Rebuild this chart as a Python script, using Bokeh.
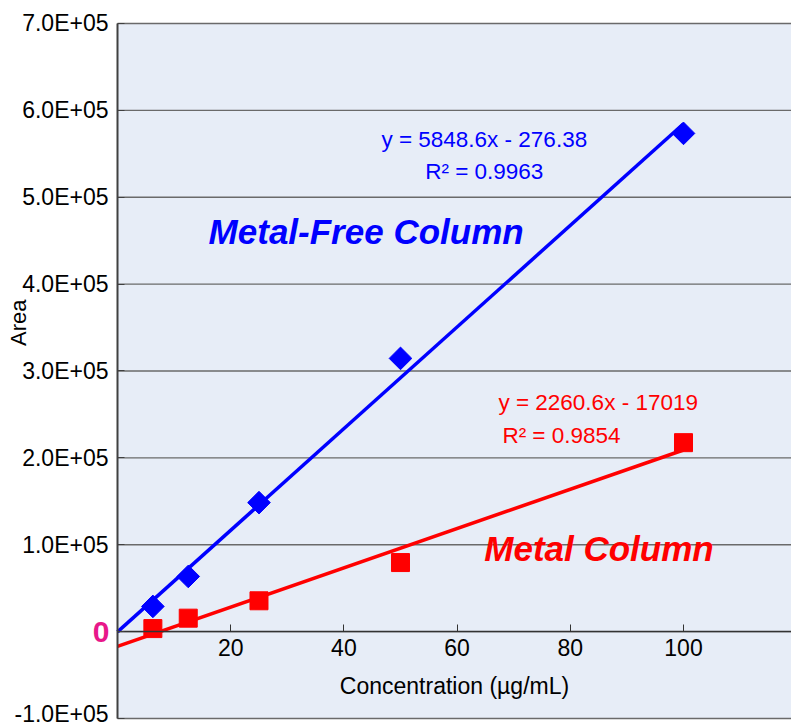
from bokeh.plotting import figure
from bokeh.models import FixedTicker, Label, ColumnDataSource, BoxAnnotation
from bokeh.embed import file_html
from bokeh.resources import INLINE
import numpy as np

# ---- data ----
conc = [6.25, 12.5, 25, 50, 100]
metal_free_area = [29000, 63500, 148500, 314500, 573500]
metal_area = [3500, 15500, 35500, 79500, 217500]
fit_mf = (5848.6, -276.38)
fit_m = (2260.6, -17019)
x_ticks = [20, 40, 60, 80, 100]
y_ticks = [-100000, 0, 100000, 200000, 300000, 400000, 500000, 600000, 700000]
y_tick_labels = ["-1.0E+05", "", "1.0E+05", "2.0E+05", "3.0E+05", "4.0E+05",
                 "5.0E+05", "6.0E+05", "7.0E+05"]

FONT = "Liberation Sans"
BG = "#E7EDF7"
X_START, X_END = -20.67, 119.08
Y_MIN, Y_MAX = -100000, 700000
Y_START, Y_END = -109209, 726474

p = figure(width=791, height=726, x_range=(X_START, X_END), y_range=(Y_START, Y_END),
           output_backend="svg", toolbar_location=None,
           min_border_left=0, min_border_top=0, min_border_bottom=0, min_border_right=0)
p.background_fill_color = "white"
p.border_fill_color = "white"
p.outline_line_color = None
p.xgrid.grid_line_color = None
p.ygrid.grid_line_color = None

# plot-area background
p.add_layout(BoxAnnotation(left=0, bottom=Y_MIN, top=Y_MAX, fill_color=BG,
                           fill_alpha=1.0, line_color=None, level="underlay"))

# horizontal grid lines across the plot area
p.segment(x0=[0] * len(y_ticks), x1=[X_END] * len(y_ticks), y0=y_ticks, y1=y_ticks,
          line_color="#6a6a6a", line_width=1.4)

# x axis at y=0
p.xaxis.fixed_location = 0
p.xaxis.bounds = (0, X_END)
p.xaxis.ticker = FixedTicker(ticks=x_ticks)
p.xaxis.axis_line_color = "#333333"
p.xaxis.axis_line_width = 1.5
p.xaxis.major_tick_in = 7
p.xaxis.major_tick_out = 0
p.xaxis.major_tick_line_color = "#333333"
p.xaxis.minor_tick_line_color = None
p.xaxis.major_label_text_font = FONT
p.xaxis.major_label_text_font_size = "23px"
p.xaxis.major_label_text_color = "black"
p.xaxis.major_label_standoff = 7
p.xaxis.axis_label = "Concentration (µg/mL)"
p.xaxis.axis_label_text_font = FONT
p.xaxis.axis_label_text_font_size = "23px"
p.xaxis.axis_label_text_font_style = "normal"
p.xaxis.axis_label_text_color = "black"
p.xaxis.axis_label_standoff = 14

# y axis at x=0
p.yaxis.fixed_location = 0
p.yaxis.bounds = (Y_MIN, Y_MAX)
p.yaxis.ticker = FixedTicker(ticks=y_ticks)
p.yaxis.major_label_overrides = {t: l for t, l in zip(y_ticks, y_tick_labels)}
p.yaxis.axis_line_color = "#404040"
p.yaxis.axis_line_width = 2
p.yaxis.major_tick_in = 7
p.yaxis.major_tick_out = 0
p.yaxis.major_tick_line_color = "#404040"
p.yaxis.minor_tick_line_color = None
p.yaxis.major_label_text_font = FONT
p.yaxis.major_label_text_font_size = "23px"
p.yaxis.major_label_text_color = "black"
p.yaxis.major_label_standoff = 9

# fit lines
fx = [0, 100]
p.line(fx, [fit_mf[0] * x + fit_mf[1] for x in fx], line_color="#0000FF", line_width=3.5)
p.line(fx, [fit_m[0] * x + fit_m[1] for x in fx], line_color="#FF0000", line_width=3.5)

# markers
src = ColumnDataSource(dict(x=conc, mf=metal_free_area, m=metal_area))
p.scatter("x", "mf", source=src, marker="square", size=16, angle=np.pi / 4,
          fill_color="#0000FF", line_color="#0000FF")
p.scatter("x", "m", source=src, marker="square", size=18,
          fill_color="#FF0000", line_color="#FF0000")

# annotations
def lab(x, y, text, color, size, style="normal", align="left", **kw):
    p.add_layout(Label(x=x, y=y, text=text, text_color=color, text_font=FONT,
                       text_font_size=size, text_font_style=style, text_align=align,
                       text_baseline="middle", **kw))

lab(64.8, 567000, f"y = {fit_mf[0]}x - {abs(fit_mf[1])}", "#0000FF", "22.5px", align="center")
lab(64.8, 530000, "R² = 0.9963", "#0000FF", "22.5px", align="center")
lab(67.3, 263500, f"y = {fit_m[0]}x - {abs(fit_m[1])}", "#FF0000", "22.5px")
lab(68.0, 225500, "R² = 0.9854", "#FF0000", "22.5px")
lab(16.1, 461000, "Metal-Free Column", "#0000FF", "35px", style="bold italic")
lab(64.8, 95500, "Metal Column", "#FF0000", "35px", style="bold italic")
lab(0, 0, "0", "#E8178A", "30px", style="bold", align="right", x_offset=-8)
lab(0, 355600, "Area", "black", "22px", align="center", x_offset=-99, angle=np.pi / 2)

open("out.html", "w").write(file_html(p, INLINE))
